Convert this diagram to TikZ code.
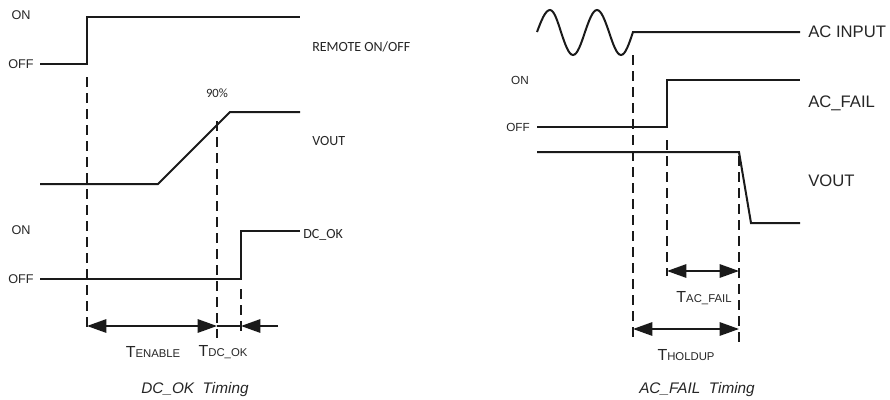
\documentclass[tikz,border=0pt]{standalone}
\usepackage{fontspec}
\setmainfont{Liberation Sans}
\newfontfamily\calibfont{Carlito}
\usetikzlibrary{arrows.meta}
\definecolor{ink}{HTML}{1A1A1A}
\definecolor{txt}{HTML}{262626}
\newcommand\Tlab[1]{T{\fontsize{8.5}{10}\selectfont #1}}
\begin{document}
\begin{tikzpicture}[x=0.75pt,y=-0.75pt,
  sig/.style={draw=ink,line width=1.5pt,line join=miter},
  guide/.style={draw=ink,line width=1.1pt,dash pattern=on 7.5pt off 4.5pt},
  dimboth/.style={draw=ink,line width=1.5pt,{Triangle[length=14.5pt,width=10pt]}-{Triangle[length=14.5pt,width=10pt]}},
  dimone/.style={draw=ink,line width=1.5pt,-{Triangle[length=14.5pt,width=10pt]}},
  plain/.style={draw=ink,line width=1.5pt},
  lvl/.style={text=txt,font=\fontsize{9.5}{11}\selectfont,inner sep=0pt},
  lvr/.style={text=txt,font=\fontsize{8.8}{10}\selectfont,inner sep=0pt},
  lab/.style={text=txt,font=\calibfont\fontsize{10.5}{12}\selectfont,inner sep=0pt,anchor=west},
  rlab/.style={text=txt,font=\fontsize{12.5}{14}\selectfont,inner sep=0pt,anchor=west},
  tlab/.style={text=txt,font=\fontsize{12}{14}\selectfont,inner sep=0pt},
  captxt/.style={text=txt,font=\itshape\fontsize{11.5}{14}\selectfont,inner sep=0pt}]
\useasboundingbox[fill=white] (0,0) rectangle (890,400);

% ---------- left diagram ----------
\node[lvl] (on1) at (21,15) {ON};
\node[lvl] (off1) at (21,64) {OFF};
\node[lab] (remote) at (312,47) {REMOTE ON/OFF};
\coordinate (r0) at (40,64); \coordinate (r1) at (87,64);
\coordinate (r2) at (87,17); \coordinate (r3) at (300,17);
\draw[sig] (r0) -- (r1) -- (r2) -- (r3);

\node[text=txt,font=\calibfont\fontsize{9.5}{11}\selectfont,inner sep=0pt] (p90) at (217,93) {90\%};
\node[lab] (vout1) at (312,141) {VOUT};
\coordinate (v0) at (40,184); \coordinate (v1) at (158,184);
\coordinate (v2) at (230,112); \coordinate (v3) at (300,112);
\draw[sig] (v0) -- (v1) -- (v2) -- (v3);

\node[lvl] (on2) at (21,230) {ON};
\node[lvl] (off2) at (21,279) {OFF};
\node[lab] (dcok) at (303,235) {DC\_OK};
\coordinate (d0) at (40,279); \coordinate (d1) at (241,279);
\coordinate (d2) at (241,231); \coordinate (d3) at (300,231);
\draw[sig] (d0) -- (d1) -- (d2) -- (d3);

\coordinate (g1a) at (87,77);  \coordinate (g1b) at (87,333);
\coordinate (g2a) at (217,121); \coordinate (g2b) at (217,338);
\coordinate (g3a) at (241,289); \coordinate (g3b) at (241,335);
\draw[guide] (g1a) -- (g1b);
\draw[guide] (g2a) -- (g2b);
\draw[guide] (g3a) -- (g3b);

\coordinate (a0) at (87,326); \coordinate (a1) at (217,326);
\coordinate (a2) at (241,326); \coordinate (a3) at (278,326);
\draw[dimboth] (a0) -- (a1);
\draw[plain] (a1) -- (a2);
\draw[dimone] (a3) -- (a2);

\node[tlab] (tenable) at (153,352) {\Tlab{ENABLE}};
\node[tlab] (tdcok) at (223,352) {\Tlab{DC\_OK}};
\node[captxt] (cap1) at (195,390) {DC\_OK\ \ Timing};

% ---------- right diagram ----------
\node[rlab] (acin) at (808,32) {AC INPUT};
\coordinate (s0) at (537,32); \coordinate (s1) at (550,10);
\coordinate (s2) at (561,32); \coordinate (s3) at (573,55);
\coordinate (s4) at (585,32); \coordinate (s5) at (597,10);
\coordinate (s6) at (609,32); \coordinate (s7) at (621,55);
\coordinate (s8) at (633,32); \coordinate (s9) at (800,32);
\draw[sig] (s0) sin (s1) cos (s2) sin (s3) cos (s4) sin (s5) cos (s6) sin (s7) cos (s8) -- (s9);

\node[lvr] (on3) at (520,80) {ON};
\node[lvr] (off3) at (518,127) {OFF};
\node[rlab] (acfail) at (808,103) {AC\_FAIL};
\coordinate (f0) at (537,127); \coordinate (f1) at (667,127);
\coordinate (f2) at (667,80); \coordinate (f3) at (800,80);
\draw[sig] (f0) -- (f1) -- (f2) -- (f3);

\node[rlab] (vout2) at (808,181) {VOUT};
\coordinate (w0) at (537,152); \coordinate (w1) at (739,152);
\coordinate (w2) at (751,223); \coordinate (w3) at (800,223);
\draw[sig] (w0) -- (w1) -- (w2) -- (w3);

\coordinate (h1a) at (633,55);  \coordinate (h1b) at (633,340);
\coordinate (h2a) at (667,140); \coordinate (h2b) at (667,276);
\coordinate (h3a) at (739,156); \coordinate (h3b) at (739,343);
\draw[guide] (h1a) -- (h1b);
\draw[guide] (h2a) -- (h2b);
\draw[guide] (h3a) -- (h3b);

\coordinate (b0) at (667,271); \coordinate (b1) at (739,271);
\draw[dimboth] (b0) -- (b1);
\coordinate (c0) at (633,329); \coordinate (c1) at (739,329);
\draw[dimboth] (c0) -- (c1);

\node[tlab] (tacfail) at (704,298) {\Tlab{AC\_FAIL}};
\node[tlab] (tholdup) at (686,355) {\Tlab{HOLDUP}};
\node[captxt] (cap2) at (697,390) {AC\_FAIL\ \ Timing};
\end{tikzpicture}
\end{document}
